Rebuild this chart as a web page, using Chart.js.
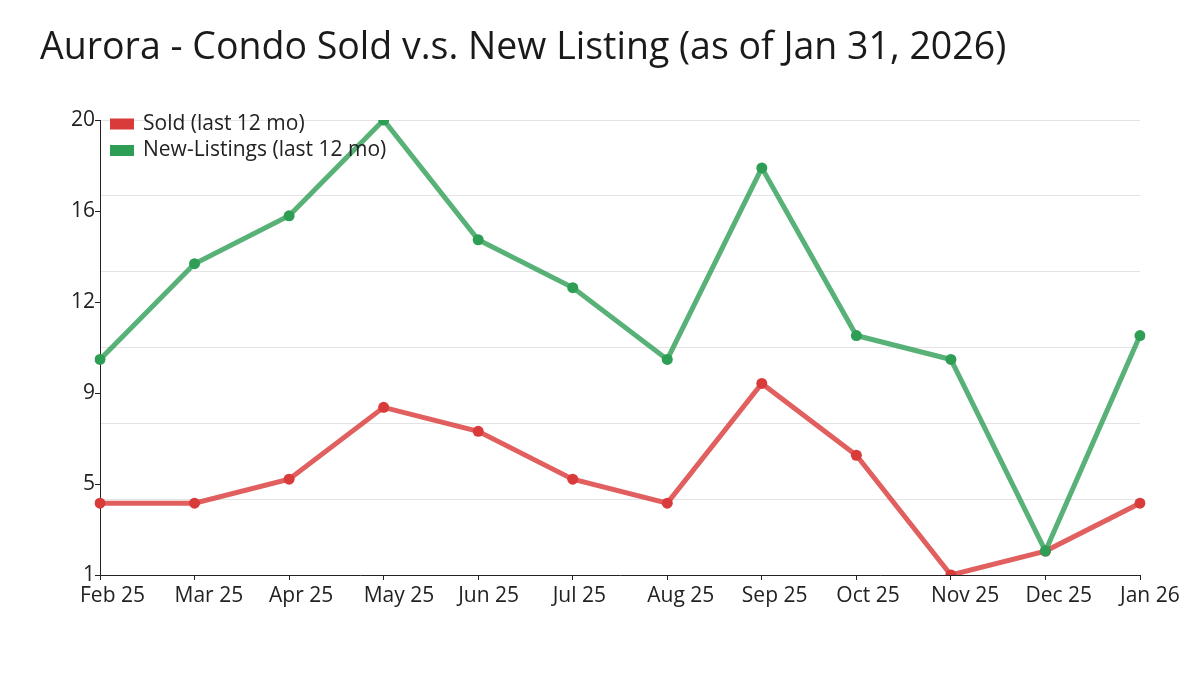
<!DOCTYPE html>
<html lang="en">
<head>
    <meta charset="UTF-8">
    <title>Aurora - Condo Sold v.s. New Listing</title>
    <style>
        html, body { margin: 0; padding: 0; background: #fff; }
        #wrap { width: 1200px; height: 675px; }
    </style>
</head>
<body>
    <div id="wrap"><canvas id="condoChart" width="1200" height="675"></canvas></div>

    <script src="https://cdn.jsdelivr.net/npm/chart.js"></script>
    <script>
        // Chart data
        const months = ['Feb 25', 'Mar 25', 'Apr 25', 'May 25', 'Jun 25', 'Jul 25',
                        'Aug 25', 'Sep 25', 'Oct 25', 'Nov 25', 'Dec 25', 'Jan 26'];
        const sold = [4, 4, 5, 8, 7, 5, 4, 9, 6, 1, 2, 4];
        const newListings = [10, 14, 16, 20, 15, 13, 10, 18, 11, 10, 2, 11];

        // y axis: labelled ticks and grid lines sit at different spots
        const yTickValues = [1, 4.8, 8.6, 12.4, 16.2, 20];
        const yTickLabels = ['1', '5', '9', '12', '16', '20'];
        const yGridValues = [1, 4.1667, 7.3333, 10.5, 13.6667, 16.8333, 20];

        const FONT = 'Open Sans';

        // legend drawn inside the plot, top-left
        const insideLegend = {
            id: 'insideLegend',
            afterDraw(chart) {
                const ctx = chart.ctx;
                const area = chart.chartArea;
                ctx.save();
                ctx.font = `21px "${FONT}"`;
                ctx.textBaseline = 'middle';
                ctx.textAlign = 'left';
                chart.data.datasets.forEach((ds, i) => {
                    const y = area.top + 4 + i * 26.5;
                    ctx.fillStyle = ds.pointBackgroundColor;
                    ctx.fillRect(area.left + 10, y - 5.5, 24, 11);
                    ctx.fillStyle = '#222';
                    ctx.fillText(ds.label, area.left + 43, y);
                });
                ctx.restore();
            }
        };

        const ctx = document.getElementById('condoChart').getContext('2d');
        const condoChart = new Chart(ctx, {
            type: 'line',
            data: {
                labels: months,
                datasets: [{
                    label: 'Sold (last 12 mo)',
                    data: sold,
                    borderColor: 'rgba(220, 60, 60, 0.82)',
                    pointBackgroundColor: '#d93a3a',
                    pointBorderWidth: 0,
                    borderWidth: 5,
                    pointRadius: 5.5,
                    tension: 0,
                    order: 1
                }, {
                    label: 'New-Listings (last 12 mo)',
                    data: newListings,
                    borderColor: 'rgba(46, 158, 85, 0.8)',
                    pointBackgroundColor: '#2e9e55',
                    pointBorderWidth: 0,
                    borderWidth: 5,
                    pointRadius: 5.5,
                    tension: 0,
                    order: 0
                }]
            },
            options: {
                responsive: false,
                animation: false,
                layout: {
                    padding: { left: 40, right: 60, top: 0, bottom: 60 }
                },
                plugins: {
                    legend: { display: false },
                    tooltip: { enabled: false },
                    title: {
                        display: true,
                        text: 'Aurora - Condo Sold v.s. New Listing (as of Jan 31, 2026)',
                        align: 'start',
                        color: '#1a1a1a',
                        font: { family: FONT, size: 37.5, weight: 'normal', lineHeight: 1.2 },
                        padding: { top: 26, bottom: 49 }
                    }
                },
                scales: {
                    x: {
                        offset: false,
                        grid: {
                            display: true,
                            drawOnChartArea: false,
                            drawTicks: true,
                            tickLength: 5,
                            color: '#222'
                        },
                        border: { display: true, color: '#222', width: 1 },
                        ticks: {
                            color: '#222',
                            font: { family: FONT, size: 21 },
                            align: 'start',
                            labelOffset: -20,
                            padding: 3,
                            autoSkip: false,
                            maxRotation: 0,
                            minRotation: 0
                        },
                        afterFit(scale) {
                            scale.height = 40;
                            scale.paddingLeft = 0;
                            scale.paddingRight = 0;
                        }
                    },
                    y: {
                        min: 1,
                        max: 20,
                        afterBuildTicks(scale) {
                            scale.ticks = yTickValues.map(v => ({ value: v }));
                        },
                        grid: {
                            display: true,
                            drawOnChartArea: false,
                            drawTicks: true,
                            tickLength: 5,
                            color: '#222'
                        },
                        border: { display: true, color: '#222', width: 1 },
                        ticks: {
                            color: '#222',
                            padding: 0,
                            font: { family: FONT, size: 21 },
                            callback: (value, i) => yTickLabels[i]
                        },
                        afterFit(scale) { scale.width = 60; }
                    },
                    yGrid: {
                        position: 'right',
                        min: 1,
                        max: 20,
                        afterBuildTicks(scale) {
                            scale.ticks = yGridValues.map(v => ({ value: v }));
                        },
                        grid: {
                            display: true,
                            drawTicks: false,
                            color: '#e4e4e4',
                            lineWidth: 1
                        },
                        border: { display: false },
                        ticks: { display: false },
                        afterFit(scale) { scale.width = 0; }
                    }
                }
            },
            plugins: [insideLegend]
        });
    </script>
</body>
</html>
